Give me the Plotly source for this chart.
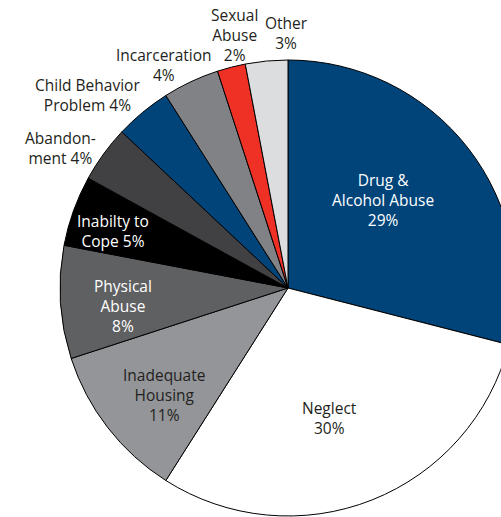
import math
import plotly.graph_objects as go

categories = ["Drug & Alcohol Abuse", "Neglect", "Inadequate Housing", "Physical Abuse",
              "Inabilty to Cope", "Abandonment", "Child Behavior Problem", "Incarceration",
              "Sexual Abuse", "Other"]
values = [29, 30, 11, 8, 5, 4, 4, 4, 2, 3]
label_text = ["Drug &<br>Alcohol Abuse<br>29%", "Neglect<br>30%", "Inadequate<br>Housing<br>11%",
              "Physical<br>Abuse<br>8%", "Inabilty to<br>Cope 5%", "Abandon-<br>ment 4%",
              "Child Behavior<br>Problem 4%", "Incarceration<br>4%", "Sexual<br>Abuse<br>2%",
              "Other<br>3%"]

# styles
colors = ["#00447a", "#ffffff", "#939598", "#5f6062", "#000000", "#414042",
          "#00447a", "#808285", "#ee3124", "#dcddde"]
text_colors = ["white", "#231f20", "#231f20", "white", "white",
               "#231f20", "#231f20", "#231f20", "#231f20", "#231f20"]
# label placement: radius fraction along each slice's mid-angle, plus pixel nudges
label_radius = [0.57, 0.6, 0.72, 0.73, 0.81, 1.17, 1.22, 1.12, 1.14, 1.12]
label_xshift = [-8, -9, 6, 1, -1, -12, -23, -15, 11, 23]
label_yshift = [8, -3, -6.5, -7.5, -5.5, -17, -21, -8, 1, 1]

FONT = "Open Sans"
FSIZE = 15.5

fig = go.Figure(go.Pie(
    labels=categories, values=values,
    textinfo="none",
    sort=False, direction="clockwise", rotation=0,
    marker=dict(colors=colors, line=dict(color="#000000", width=1)),
    showlegend=False, hovertemplate="%{label}: %{value}%<extra></extra>",
    domain=dict(x=[0, 1], y=[0, 1]),
))

total = sum(values)
cum = 0
annotations = []
for i, v in enumerate(values):
    mid = (cum + v / 2) / total * 2 * math.pi
    cum += v
    r = 0.5 * label_radius[i]
    annotations.append(dict(
        x=0.5 + r * math.sin(mid), y=0.5 + r * math.cos(mid),
        xref="paper", yref="paper", text=label_text[i], showarrow=False,
        xanchor="center", yanchor="middle", align="center",
        xshift=label_xshift[i], yshift=label_yshift[i],
        font=dict(family=FONT, size=FSIZE, color=text_colors[i]),
    ))

fig.update_layout(
    width=516, height=517,
    margin=dict(l=60, r=0, t=60, b=1),
    paper_bgcolor="white", plot_bgcolor="white",
    font=dict(family=FONT, size=FSIZE, color="#231f20"),
    annotations=annotations,
)
fig.write_html(
    "out.html",
    config={"displayModeBar": False},
    post_script="document.body.style.margin='0';document.body.style.overflow='hidden';"
                "document.documentElement.style.overflow='hidden';",
)
